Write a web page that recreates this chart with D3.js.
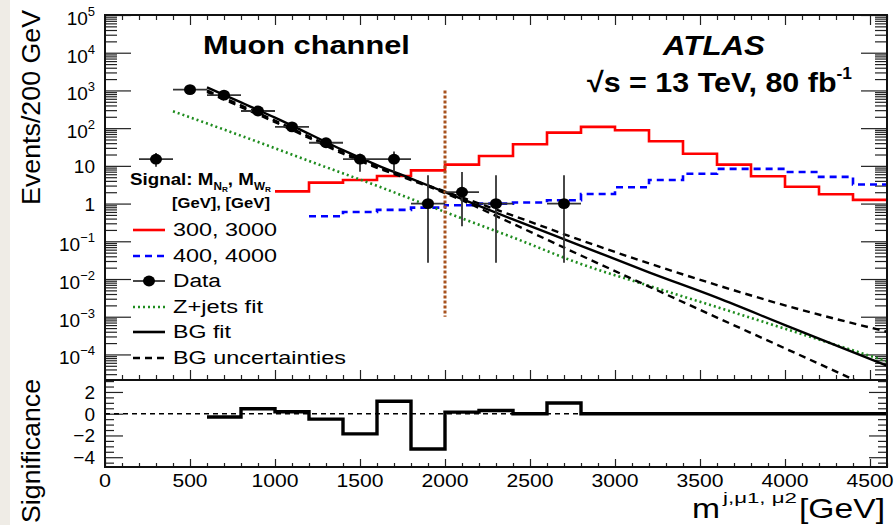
<!DOCTYPE html>
<html><head><meta charset="utf-8">
<script src="https://cdn.jsdelivr.net/npm/d3@7"></script>
<style>body{margin:0;background:#fff;} svg{display:block;}</style>
</head><body>
<svg id="c" width="895" height="525"></svg>
<script>
// ---------------- data ----------------
const binWidth = 200;
// Data points (Events / 200 GeV)
const dataX   = [300, 500, 700, 900, 1100, 1300, 1500, 1700, 1900, 2100, 2300, 2700];
const dataY   = [15, 1050, 750, 285, 108, 41, 15, 15, 1, 2, 1, 1];
const dataYHi = [22, 1100, 790, 300, 115, 45, 21, 24, 5.6, 6.9, 5.6, 5.6];
const dataYLo = [9.5, 1000, 710, 270, 101, 37, 7, 7, 0.027, 0.25, 0.027, 0.027];

// Signal 300, 3000 (bin low edges)
const sigRedX = [1000,1200,1400,1600,1800,2000,2200,2400,2600,2800,3000,3200,3400,3600,3800,4000,4200,4400];
const sigRedY = [2.1, 3.6, 4.2, 5.4, 7.6, 10.8, 18.3, 37.5, 76, 108, 88, 45, 21, 10.8, 5.3, 2.8, 1.77, 1.25];
// Signal 400, 4000
const sigBlueX = [1200,1400,1600,1800,2000,2200,2400,2600,2800,3000,3200,3400,3600,3800,4000,4200,4400];
const sigBlueY = [0.46, 0.6, 0.68, 0.78, 0.9, 1.0, 1.07, 1.23, 1.8, 2.7, 4.2, 6.2, 8.3, 8.3, 6.9, 5.1, 3.2];

// Fits
const bgFitX = [600, 800, 1000, 1200, 1400, 1600, 1800, 2000, 2400, 2800, 3200, 3600, 4000, 4600];
const bgFitY = [1200, 480, 190, 71, 26, 10.5, 4.6, 2.0, 0.38, 0.076, 0.015, 3.2e-3, 6.0e-4, 5.0e-5];
const bgUpY  = [1000, 400, 158, 60, 23, 9.5, 4.4, 2.1, 0.48, 0.107, 0.026, 6.9e-3, 2.0e-3, 4.0e-4];
const bgDnY  = [910, 363, 145, 55, 21, 8.9, 4.2, 1.9, 0.29, 0.042, 6.3e-3, 9.5e-4, 1.45e-4, 8.5e-6];
const zjX = [400, 800, 1200, 1600, 2000, 2400, 2800, 3200, 3600, 4000, 4600];
const zjY = [280, 63, 13.5, 2.95, 0.60, 0.126, 0.025, 6.6e-3, 1.8e-3, 4.8e-4, 6.6e-5];

// Cut line
const cutX = 2000;
const cutRange = [1e-3, 1e3];

// Significance (bin low edges)
const signifX = [600,800,1000,1200,1400,1600,1800,2000,2200,2400,2600,2800,3000,3200,3400,3600,3800,4000,4200,4400];
const signifY = [-0.3, 0.46, 0.18, -0.5, -1.85, 1.14, -3.24, 0.15, 0.3, 0, 0.98, 0, 0, 0, 0, 0, 0, 0, 0, 0];

// Axis ticks / labels
const xMajor = [0,500,1000,1500,2000,2500,3000,3500,4000,4500];
const xTickLabels = ['0','500','1000','1500','2000','2500','3000','3500','4000','4500'];
const yTickVals = [1e5,1e4,1e3,1e2,10,1,1e-1,1e-2,1e-3,1e-4];
const yTickBase = ['10','10','10','10','10','1','10','10','10','10'];
const yTickExp  = ['5','4','3','2','','','\u22121','\u22122','\u22123','\u22124'];
const sTickVals = [2, 0, -2, -4];
const sTickLabels = ['2','0','\u22122','\u22124'];

const legendLabels = ['300, 3000', '400, 4000', 'Data', 'Z+jets fit', 'BG fit', 'BG uncertainties'];

// ---------------- drawing ----------------
const FONT = "'Liberation Sans', Arial, Helvetica, sans-serif";
const svg = d3.select('#c');
svg.append('rect').attr('width', 895).attr('height', 525).attr('fill', '#fff');
svg.append('rect').attr('width', 10).attr('height', 525).attr('fill', '#efece6');

const L = 105, R = 887, T = 15, MID = 380, B = 467;
const x = d3.scaleLinear().domain([0, 4600]).range([L, R]);
const y = d3.scaleLog().domain([2.1e-5, 1e5]).range([MID, T]);
const ys = d3.scaleLinear().domain([-4.9, 3.1]).range([B, MID]);

svg.append('clipPath').attr('id', 'clipU').append('rect')
  .attr('x', L).attr('y', T).attr('width', R - L).attr('height', MID - T);
svg.append('clipPath').attr('id', 'clipL').append('rect')
  .attr('x', L).attr('y', MID).attr('width', R - L).attr('height', B - MID);

function label(parent, o) {
  const t = parent.append('text')
    .attr('font-family', FONT).attr('font-size', o.size)
    .attr('font-weight', o.weight || 'normal').attr('font-style', o.style || 'normal')
    .attr('text-anchor', o.anchor || 'start').attr('fill', o.fill || '#000');
  if (o.parts) o.parts.forEach(p => t.append('tspan').attr('dy', p.dy || 0).attr('font-size', p.size || o.size).text(p.t));
  else t.text(o.text);
  let sx = 1;
  if (o.width) { const w = t.node().getComputedTextLength(); if (w > 0) sx = o.width / w; }
  t.attr('transform', `translate(${o.x},${o.y})${o.rotate ? ` rotate(${o.rotate})` : ''} scale(${sx},1)`);
  return t;
}

// ---- ticks via axes ----
const tickCol = '#222';
function styleAxis(g) {
  g.select('.domain').remove();
  g.selectAll('.tick line').attr('stroke', tickCol).attr('stroke-width', 1.2);
  g.selectAll('.tick text').remove();
}
const decadeMinors = [];
for (let k = -5; k <= 4; k++) for (let m = 2; m <= 9; m++) {
  const v = m * Math.pow(10, k);
  if (v >= 2.1e-5 && v <= 1e5) decadeMinors.push(v);
}
const xMinor = d3.range(0, 4601, 100).filter(v => v % 500 !== 0);
const sMinor = d3.range(-4.5, 3.01, 0.5).filter(v => v % 2 !== 0);

const axes = svg.append('g');
axes.append('g').attr('transform', `translate(${L},0)`).call(d3.axisLeft(y).tickValues(yTickVals).tickSize(-26)).call(styleAxis);
axes.append('g').attr('transform', `translate(${L},0)`).call(d3.axisLeft(y).tickValues(decadeMinors).tickSize(-12)).call(styleAxis);
axes.append('g').attr('transform', `translate(${R},0)`).call(d3.axisRight(y).tickValues(yTickVals).tickSize(-26)).call(styleAxis);
axes.append('g').attr('transform', `translate(${R},0)`).call(d3.axisRight(y).tickValues(decadeMinors).tickSize(-12)).call(styleAxis);
axes.append('g').attr('transform', `translate(0,${T})`).call(d3.axisTop(x).tickValues(xMajor).tickSize(-10)).call(styleAxis);
axes.append('g').attr('transform', `translate(0,${T})`).call(d3.axisTop(x).tickValues(xMinor).tickSize(-5)).call(styleAxis);
axes.append('g').attr('transform', `translate(0,${MID})`).call(d3.axisBottom(x).tickValues(xMajor).tickSize(-10)).call(styleAxis);
axes.append('g').attr('transform', `translate(0,${MID})`).call(d3.axisBottom(x).tickValues(xMinor).tickSize(-5)).call(styleAxis);
axes.append('g').attr('transform', `translate(0,${B})`).call(d3.axisBottom(x).tickValues(xMajor).tickSize(-8)).call(styleAxis);
axes.append('g').attr('transform', `translate(0,${B})`).call(d3.axisBottom(x).tickValues(xMinor).tickSize(-4)).call(styleAxis);
axes.append('g').attr('transform', `translate(${L},0)`).call(d3.axisLeft(ys).tickValues(sTickVals).tickSize(-18)).call(styleAxis);
axes.append('g').attr('transform', `translate(${L},0)`).call(d3.axisLeft(ys).tickValues(sMinor).tickSize(-9)).call(styleAxis);
axes.append('g').attr('transform', `translate(${R},0)`).call(d3.axisRight(ys).tickValues(sTickVals).tickSize(-18)).call(styleAxis);
axes.append('g').attr('transform', `translate(${R},0)`).call(d3.axisRight(ys).tickValues(sMinor).tickSize(-9)).call(styleAxis);

// ---- upper plot content ----
const up = svg.append('g').attr('clip-path', 'url(#clipU)');
const stepLine = d3.line().x(d => x(d[0])).y(d => y(d[1])).curve(d3.curveStepAfter);
function histPts(xs, vs) {
  const p = xs.map((v, i) => [v, vs[i]]);
  p.push([xs[xs.length - 1] + binWidth, vs[vs.length - 1]]);
  return p;
}
up.append('path').attr('d', stepLine(histPts(sigRedX, sigRedY)))
  .attr('fill', 'none').attr('stroke', '#ff0000').attr('stroke-width', 2.6);
up.append('path').attr('d', stepLine(histPts(sigBlueX, sigBlueY)))
  .attr('fill', 'none').attr('stroke', '#0000ff').attr('stroke-width', 2.6).attr('stroke-dasharray', '7,5');

const fitLine = d3.line().x(d => x(d[0])).y(d => y(d[1])).curve(d3.curveMonotoneX);
up.append('path').attr('d', fitLine(zjX.map((v, i) => [v, zjY[i]])))
  .attr('fill', 'none').attr('stroke', '#1e8c1e').attr('stroke-width', 2.6).attr('stroke-dasharray', '2,3');
up.append('path').attr('d', fitLine(bgFitX.map((v, i) => [v, bgUpY[i]])))
  .attr('fill', 'none').attr('stroke', '#000').attr('stroke-width', 2.4).attr('stroke-dasharray', '7,5');
up.append('path').attr('d', fitLine(bgFitX.map((v, i) => [v, bgDnY[i]])))
  .attr('fill', 'none').attr('stroke', '#000').attr('stroke-width', 2.4).attr('stroke-dasharray', '7,5');
up.append('path').attr('d', fitLine(bgFitX.map((v, i) => [v, bgFitY[i]])))
  .attr('fill', 'none').attr('stroke', '#000').attr('stroke-width', 2.4);

up.append('line').attr('x1', x(cutX)).attr('x2', x(cutX)).attr('y1', y(cutRange[1])).attr('y2', y(cutRange[0]))
  .attr('stroke', '#a8521f').attr('stroke-width', 3).attr('stroke-dasharray', '3,2');

// data points
const dg = up.append('g');
dataX.forEach((xv, i) => {
  dg.append('line').attr('x1', x(xv - binWidth / 2)).attr('x2', x(xv + binWidth / 2))
    .attr('y1', y(dataY[i])).attr('y2', y(dataY[i])).attr('stroke', '#333').attr('stroke-width', 1.8);
  dg.append('line').attr('x1', x(xv)).attr('x2', x(xv))
    .attr('y1', y(dataYLo[i])).attr('y2', y(dataYHi[i])).attr('stroke', '#333').attr('stroke-width', 1.8);
  dg.append('ellipse').attr('cx', x(xv)).attr('cy', y(dataY[i])).attr('rx', 6).attr('ry', 5.4).attr('fill', '#000');
});

// ---- lower plot content ----
const lo = svg.append('g').attr('clip-path', 'url(#clipL)');
lo.append('line').attr('x1', x(0)).attr('x2', x(4600)).attr('y1', ys(0)).attr('y2', ys(0))
  .attr('stroke', '#000').attr('stroke-width', 1.6).attr('stroke-dasharray', '5,4');
const sLine = d3.line().x(d => x(d[0])).y(d => ys(d[1])).curve(d3.curveStepAfter);
lo.append('path').attr('d', sLine(histPts(signifX, signifY)))
  .attr('fill', 'none').attr('stroke', '#000').attr('stroke-width', 3.4);

// ---- frames ----
svg.append('rect').attr('x', L).attr('y', T).attr('width', R - L).attr('height', MID - T)
  .attr('fill', 'none').attr('stroke', '#111').attr('stroke-width', 2);
svg.append('rect').attr('x', L).attr('y', MID).attr('width', R - L).attr('height', B - MID)
  .attr('fill', 'none').attr('stroke', '#111').attr('stroke-width', 2);

// ---- tick labels ----
const tl = svg.append('g');
yTickVals.forEach((v, i) => {
  if (yTickExp[i]) {
    label(tl, { x: 95, y: y(v) + 10, size: 19, anchor: 'end',
      parts: [{ t: yTickBase[i] }, { t: yTickExp[i], dy: -9, size: 13 }] });
  } else {
    label(tl, { x: 95, y: y(v) + 7, size: 19, anchor: 'end', text: yTickBase[i] });
  }
});
sTickVals.forEach((v, i) => {
  label(tl, { x: 95, y: ys(v) + 7, size: 19, anchor: 'end', text: sTickLabels[i] });
});
xMajor.forEach((v, i) => {
  const w = { 1: 12, 3: 35, 4: 47 }[xTickLabels[i].length];
  label(tl, { x: x(v), y: 487, size: 19, anchor: 'middle', text: xTickLabels[i], width: w });
});

// ---- titles ----
label(svg, { x: 40, y: 10, size: 26, anchor: 'end', rotate: -90, text: 'Events/200 GeV', width: 195 });
label(svg, { x: 40, y: 379, size: 26, anchor: 'end', rotate: -90, text: 'Significance', width: 144 });
label(svg, { x: 692, y: 518, size: 28, text: 'm', width: 28 });
label(svg, { x: 723, y: 503, size: 15, text: 'j,\u03bc1, \u03bc2', width: 74 });
label(svg, { x: 799, y: 518, size: 28, text: '[GeV]', width: 86 });

label(svg, { x: 203, y: 54, size: 25, weight: 'bold', text: 'Muon channel', width: 207 });
label(svg, { x: 663, y: 55, size: 28, weight: 'bold', style: 'italic', text: 'ATLAS', width: 102 });
label(svg, { x: 587, y: 92, size: 28, weight: 'bold', width: 265,
  parts: [{ t: '\u221As = 13 TeV, 80 fb' }, { t: '-1', dy: -13, size: 16 }] });

// ---- legend ----
const lg = svg.append('g');
label(lg, { x: 130, y: 185, size: 16, weight: 'bold', width: 141,
  parts: [{ t: 'Signal: M' }, { t: 'N', dy: 5, size: 10 }, { t: 'R', dy: 2, size: 7 },
          { t: ', M', dy: -7, size: 16 }, { t: 'W', dy: 5, size: 10 }, { t: 'R', dy: 2, size: 7 }] });
label(lg, { x: 172, y: 208, size: 15, weight: 'bold', text: '[GeV], [GeV]', width: 98 });

const legY = [230, 256, 281, 307, 332, 358];
const legW = [104, 104, 48, 90, 58, 173];
const legStyles = [
  { stroke: '#ff0000', dash: null },
  { stroke: '#0000ff', dash: '7,5' },
  { stroke: '#000', dash: null, marker: true },
  { stroke: '#1e8c1e', dash: '2,3' },
  { stroke: '#000', dash: null },
  { stroke: '#000', dash: '7,5' }
];
legendLabels.forEach((s, i) => {
  const st = legStyles[i];
  const ln = lg.append('line').attr('x1', 133).attr('x2', 165).attr('y1', legY[i]).attr('y2', legY[i])
    .attr('stroke', st.marker ? '#333' : st.stroke).attr('stroke-width', st.marker ? 1.8 : 2.6);
  if (st.dash) ln.attr('stroke-dasharray', st.dash);
  if (st.marker) lg.append('ellipse').attr('cx', 149).attr('cy', legY[i]).attr('rx', 6).attr('ry', 5.4).attr('fill', '#000');
  label(lg, { x: 173, y: legY[i] + 6, size: 19, text: s, width: legW[i] });
});
</script>
</body></html>
